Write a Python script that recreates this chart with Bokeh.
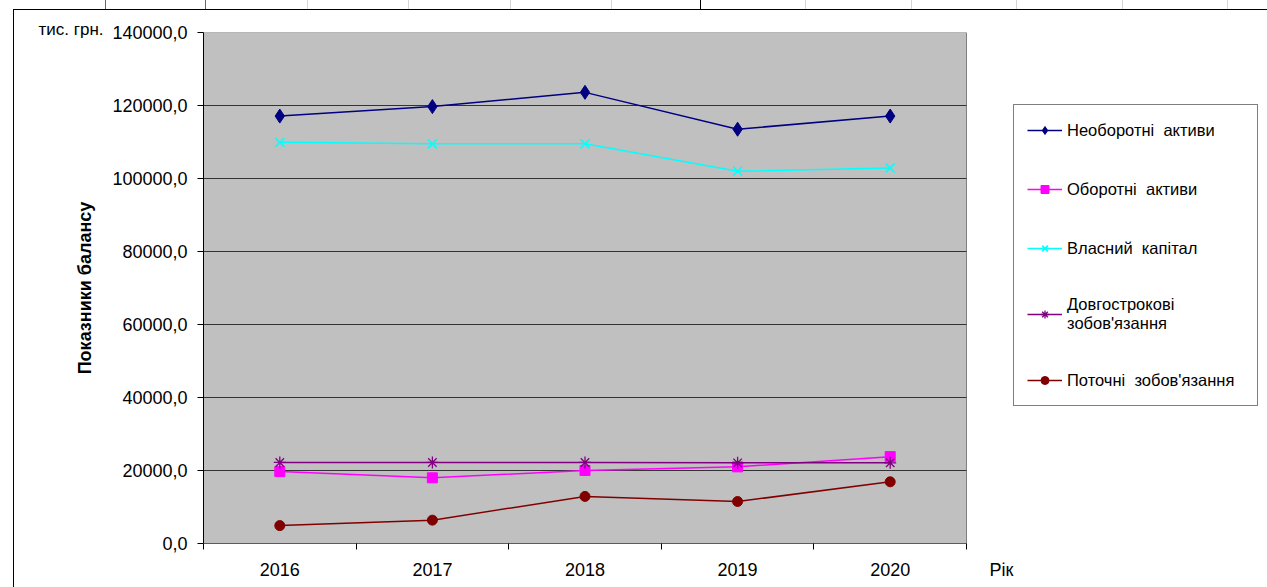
from bokeh.plotting import figure
from bokeh.models import FixedTicker, Legend, LegendItem
from bokeh.embed import file_html
from bokeh.resources import INLINE

# Balance sheet indicators, thousand UAH
years = [2016, 2017, 2018, 2019, 2020]
non_current_assets = [117100, 119700, 123600, 113500, 117100]
current_assets = [19700, 18000, 20000, 21000, 23800]
equity = [109900, 109500, 109500, 102000, 102900]
long_term_liabilities = [22200, 22200, 22200, 22100, 22100]
current_liabilities = [4900, 6400, 12900, 11500, 16900]

y_ticks = [0, 20000, 40000, 60000, 80000, 100000, 120000, 140000]
x_caption = "Рік"

FONT = "Liberation Sans"

# the plotting area takes 763 px of the 1064 px wide frame; the rest of the
# frame on the right holds the legend and the x-axis caption
X0, X1 = years[0] - 0.5, years[-1] + 0.5
AREA_W, FRAME_W = 763, 1064
x_end = X0 + (X1 - X0) * FRAME_W / AREA_W
caption_x = X1 + (X1 - X0) * 35 / AREA_W

p = figure(width=1267, height=587, output_backend="svg", toolbar_location=None,
           x_range=(X0, x_end), y_range=(0, 140000),
           min_border_left=203, min_border_right=0,
           min_border_top=32, min_border_bottom=44)

p.background_fill_color = "white"
p.border_fill_alpha = 0
p.outline_line_color = None

# sheet frame around the chart, with the cell borders of the table row above
cell_lines = [(105, "#666"), (205, "#666"), (307, "#d6d6d6"), (408, "#d6d6d6"),
              (510, "#d6d6d6"), (611, "#d6d6d6"), (700, "#000"), (805, "#d6d6d6"),
              (911, "#d6d6d6"), (1016, "#d6d6d6"), (1122, "#d6d6d6"),
              (1227, "#d6d6d6")]
layers = ["linear-gradient(#000, #000)", "linear-gradient(#000, #000)"]
sizes = ["1px 100%", "100% 1px"]
positions = ["13px 9px", "13px 9px"]
for x, c in cell_lines:
    layers.append(f"linear-gradient({c}, {c})")
    sizes.append("1px 9px")
    positions.append(f"{x}px 0px")
p.styles = {
    "background-color": "white",
    "background-image": ", ".join(layers),
    "background-size": ", ".join(sizes),
    "background-position": ", ".join(positions),
    "background-repeat": "no-repeat",
}

# grey plotting area with its black baseline
p.quad(left=[X0], right=[X1], bottom=[0], top=[140000],
       fill_color="#C0C0C0", line_color="#808080", line_width=1, level="image")
p.segment(x0=[X0], x1=[X1], y0=[0], y1=[0], line_color="black", line_width=1)

# unit caption above the value axis
p.title.text = "тис. грн."
p.title.align = "left"
p.title.offset = -165
p.title.standoff = -12
p.title.text_font = FONT
p.title.text_font_size = "17px"
p.title.text_font_style = "normal"
p.title.text_color = "black"

# x axis: years plus the caption past the end of the plotting area
p.xaxis.ticker = FixedTicker(ticks=years + [caption_x],
                             minor_ticks=[y + 0.5 for y in [years[0] - 1] + years])
p.xaxis.major_label_overrides = {**{y: str(y) for y in years}, caption_x: x_caption}
p.xaxis.axis_line_color = None
p.xaxis.major_tick_out = 0
p.xaxis.major_tick_in = 0
p.xaxis.minor_tick_out = 6
p.xaxis.minor_tick_in = 0
p.xaxis.major_label_standoff = 10
p.xgrid.visible = False

p.yaxis.ticker = FixedTicker(ticks=y_ticks)
p.yaxis.major_label_overrides = {v: f"{v:.1f}".replace(".", ",") for v in y_ticks}
p.yaxis.axis_line_color = "black"
p.yaxis.major_tick_out = 6
p.yaxis.major_tick_in = 0
p.yaxis.minor_tick_out = 0
p.yaxis.minor_tick_in = 0
p.yaxis.major_label_standoff = 10
p.yaxis.axis_label = "Показники балансу"
p.yaxis.axis_label_standoff = 14
p.yaxis.axis_label_text_font_style = "bold"
p.yaxis.axis_label_text_font_size = "18px"
p.yaxis.axis_label_text_font = FONT
p.yaxis.axis_label_text_color = "black"

for ax in (p.xaxis, p.yaxis):
    ax.major_tick_line_color = "black"
    ax.minor_tick_line_color = "black"
    ax.major_label_text_font = FONT
    ax.major_label_text_font_size = "18px"
    ax.major_label_text_color = "black"

# horizontal grid limited to the plotting area
grid = p.ygrid[0]
if "cross_bounds" in grid.properties():
    grid.cross_bounds = (X0, X1)
    grid.grid_line_color = "#333333"
    grid.grid_line_width = 1
else:
    grid.visible = False
    p.segment(x0=[X0] * len(y_ticks), x1=[X1] * len(y_ticks), y0=y_ticks,
              y1=y_ticks, line_color="#333333", line_width=1)

# series
r1l = p.line(years, non_current_assets, line_color="#000080", line_width=1.5)
r1m = p.scatter(years, non_current_assets, marker="diamond", size=14,
                fill_color="#000080", line_color="#000080")
r2l = p.line(years, current_assets, line_color="#FF00FF", line_width=1.5)
r2m = p.scatter(years, current_assets, marker="square", size=10,
                fill_color="#FF00FF", line_color="#FF00FF")
r3l = p.line(years, equity, line_color="#00FFFF", line_width=1.5)
r3m = p.scatter(years, equity, marker="x", size=13,
                line_color="#00FFFF", line_width=1.6)
r4l = p.line(years, long_term_liabilities, line_color="#800080", line_width=1.5)
r4m = p.scatter(years, long_term_liabilities, marker="asterisk", size=12,
                line_color="#800080", line_width=1.3)
r5l = p.line(years, current_liabilities, line_color="#800000", line_width=1.5)
r5m = p.scatter(years, current_liabilities, marker="circle", size=10,
                fill_color="#800000", line_color="#800000")

legend = Legend(items=[
    LegendItem(label="Необоротні  активи", renderers=[r1l, r1m]),
    LegendItem(label="Оборотні  активи", renderers=[r2l, r2m]),
    LegendItem(label="Власний  капітал", renderers=[r3l, r3m]),
    LegendItem(label="Довгострокові\nзобов'язання", renderers=[r4l, r4m]),
    LegendItem(label="Поточні  зобов'язання", renderers=[r5l, r5m]),
], location=(810, 137))
legend.label_text_font = FONT
legend.label_text_font_size = "16.5px"
legend.label_text_line_height = 1.02
legend.label_text_color = "black"
legend.glyph_width = 35
legend.glyph_height = 20
legend.label_height = 24
legend.label_standoff = 5
legend.label_width = 177
legend.spacing = 35
legend.padding = 13
legend.margin = 0
legend.border_line_color = "black"
legend.border_line_width = 1
legend.background_fill_color = "white"
legend.background_fill_alpha = 1
p.add_layout(legend, "center")

open("out.html", "w").write(file_html(p, INLINE))
